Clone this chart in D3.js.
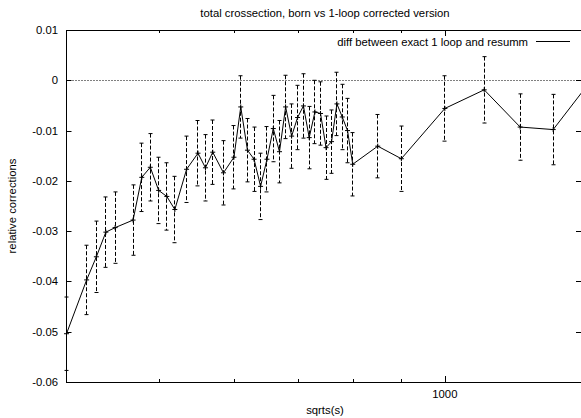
<!DOCTYPE html>
<html>
<head>
<meta charset="utf-8">
<script src="https://cdn.jsdelivr.net/npm/d3@7"></script>
<style>
  html, body { margin: 0; padding: 0; background: #fff; }
  svg { display: block; }
</style>
</head>
<body>
<svg id="chart" width="581" height="418" viewBox="0 0 581 418"></svg>
<script>
// sqrt(s) values of the points
const sqrts = [400, 420, 430, 440, 450, 470, 480, 490, 500, 510, 520, 535, 550, 560, 570, 585,
  600, 610, 620, 630, 640, 650, 660, 670, 680, 690, 700, 710, 720, 730, 740, 750, 760, 770,
  780, 790, 800, 850, 900, 1000, 1100, 1200, 1300, 1400];
// relative correction
const relCorr = [-0.0504, -0.0397, -0.0351, -0.0302, -0.0293, -0.0278, -0.0193, -0.0173, -0.0219,
  -0.0231, -0.0257, -0.0177, -0.0145, -0.0174, -0.0143, -0.0184, -0.0153, -0.0053, -0.0139,
  -0.0157, -0.0211, -0.0157, -0.0096, -0.0142, -0.0053, -0.0111, -0.0074, -0.0051, -0.0114,
  -0.0063, -0.0066, -0.0134, -0.0122, -0.0047, -0.0073, -0.0100, -0.0167, -0.0131, -0.0156,
  -0.0056, -0.0019, -0.0093, -0.0098, -0.0019];
// error (half length of bar)
const relErr = [0.0073, 0.0069, 0.0071, 0.0070, 0.0071, 0.0070, 0.0068, 0.0067, 0.0066, 0.0067,
  0.0066, 0.0066, 0.0065, 0.0066, 0.0064, 0.0064, 0.0063, 0.0062, 0.0063, 0.0064, 0.0066,
  0.0065, 0.0066, 0.0062, 0.0063, 0.0064, 0.0064, 0.0064, 0.0062, 0.0063, 0.0063, 0.0063,
  0.0063, 0.0063, 0.0065, 0.0064, 0.0063, 0.0063, 0.0065, 0.0065, 0.0066, 0.0066, 0.0070, 0.0068];

const yTicks = [0.01, 0, -0.01, -0.02, -0.03, -0.04, -0.05, -0.06];
const xMinorTicks = [500, 600, 700, 800, 900];
const xMajorTicks = [1000];

const svg = d3.select("#chart");
const font = "'Liberation Sans', Arial, Helvetica, sans-serif";
const fontSize = "11.3px";

const plot = { left: 66.5, top: 30, right: 583.8, bottom: 382 };

const x = d3.scaleLog().domain([400, 1400]).range([plot.left, plot.right]);
const y = d3.scaleLinear().domain([-0.06, 0.01]).range([plot.bottom, plot.top]);

const data = sqrts.map((s, i) => ({ s: s, v: relCorr[i], e: relErr[i] }));

svg.append("defs").append("clipPath").attr("id", "plotclip")
  .append("rect")
  .attr("x", plot.left - 3).attr("y", plot.top)
  .attr("width", plot.right - plot.left + 3).attr("height", plot.bottom - plot.top);

// title
svg.append("text")
  .attr("x", 325).attr("y", 17)
  .attr("text-anchor", "middle")
  .style("font-family", font).style("font-size", fontSize)
  .text("total crossection, born vs 1-loop corrected version");

// zero line (dotted)
svg.append("line")
  .attr("x1", plot.left).attr("x2", plot.right)
  .attr("y1", Math.round(y(0)) + 0.5).attr("y2", Math.round(y(0)) + 0.5)
  .style("stroke", "#000").style("stroke-width", 1)
  .style("stroke-dasharray", "1,2");

// ticks, drawn by hand like gnuplot (mirrored on all sides)
const tickG = svg.append("g").style("stroke", "#000").style("stroke-width", 1);
yTicks.forEach(t => {
  const yy = Math.round(y(t)) + 0.5;
  tickG.append("line").attr("x1", plot.left).attr("x2", plot.left + 5).attr("y1", yy).attr("y2", yy);
  tickG.append("line").attr("x1", 581).attr("x2", 576).attr("y1", yy).attr("y2", yy);
});
xMinorTicks.forEach(t => {
  const xx = Math.round(x(t)) + 0.5;
  tickG.append("line").attr("x1", xx).attr("x2", xx).attr("y1", plot.bottom).attr("y2", plot.bottom - 3);
  tickG.append("line").attr("x1", xx).attr("x2", xx).attr("y1", plot.top).attr("y2", plot.top + 3);
});
xMajorTicks.forEach(t => {
  const xx = Math.round(x(t)) + 0.5;
  tickG.append("line").attr("x1", xx).attr("x2", xx).attr("y1", plot.bottom).attr("y2", plot.bottom - 6);
  tickG.append("line").attr("x1", xx).attr("x2", xx).attr("y1", plot.top).attr("y2", plot.top + 6);
});

// y tick labels
svg.append("g").selectAll("text").data(yTicks).join("text")
  .attr("x", 58).attr("y", d => y(d) + 4)
  .attr("text-anchor", "end")
  .style("font-family", font).style("font-size", fontSize)
  .text(d => d === 0 ? "0" : d3.format(".2f")(d).replace("\u2212", "-"));

// x tick labels
svg.append("g").selectAll("text").data(xMajorTicks).join("text")
  .attr("x", d => x(d)).attr("y", 398)
  .attr("text-anchor", "middle")
  .style("font-family", font).style("font-size", fontSize)
  .text(d => d);

// axis labels
svg.append("text")
  .attr("x", 325).attr("y", 414)
  .attr("text-anchor", "middle")
  .style("font-family", font).style("font-size", fontSize)
  .text("sqrts(s)");
svg.append("text")
  .attr("transform", `translate(15.5, ${(plot.top + plot.bottom) / 2}) rotate(-90)`)
  .attr("text-anchor", "middle")
  .style("font-family", font).style("font-size", fontSize)
  .text("relative corrections");

// data: error bars, line, points
const dataG = svg.append("g").attr("clip-path", "url(#plotclip)");

const bars = dataG.append("g").style("stroke", "#000").style("stroke-width", 1).style("fill", "none");
data.forEach(d => {
  const xx = Math.floor(x(d.s)) + 0.5;
  const y1 = y(d.v + d.e), y2 = y(d.v - d.e);
  bars.append("line").attr("x1", xx).attr("x2", xx).attr("y1", y1).attr("y2", y2)
    .style("stroke-dasharray", "4,2");
  bars.append("line").attr("x1", xx - 2).attr("x2", xx + 2).attr("y1", y1).attr("y2", y1);
  bars.append("line").attr("x1", xx - 2).attr("x2", xx + 2).attr("y1", y2).attr("y2", y2);
});

const line = d3.line().x(d => x(d.s)).y(d => y(d.v));
dataG.append("path").datum(data)
  .attr("d", line)
  .style("fill", "none").style("stroke", "#000").style("stroke-width", 1);

const pts = dataG.append("g").style("stroke", "#000").style("stroke-width", 1);
data.forEach(d => {
  const xx = x(d.s), yy = y(d.v);
  pts.append("line").attr("x1", xx - 2.5).attr("x2", xx + 2.5).attr("y1", yy).attr("y2", yy);
  pts.append("line").attr("x1", xx).attr("x2", xx).attr("y1", yy - 2.5).attr("y2", yy + 2.5);
});

// border (right edge falls just outside the picture)
svg.append("rect")
  .attr("x", plot.left).attr("y", plot.top + 0.5)
  .attr("width", plot.right - plot.left).attr("height", plot.bottom - plot.top)
  .style("fill", "none").style("stroke", "#000").style("stroke-width", 1);

// legend
svg.append("text")
  .attr("x", 528).attr("y", 45.5)
  .attr("text-anchor", "end")
  .style("font-family", font).style("font-size", fontSize)
  .text("diff between exact 1 loop and resumm");
svg.append("line")
  .attr("x1", 536).attr("x2", 570).attr("y1", 41.5).attr("y2", 41.5)
  .style("stroke", "#000").style("stroke-width", 1);
</script>
</body>
</html>
